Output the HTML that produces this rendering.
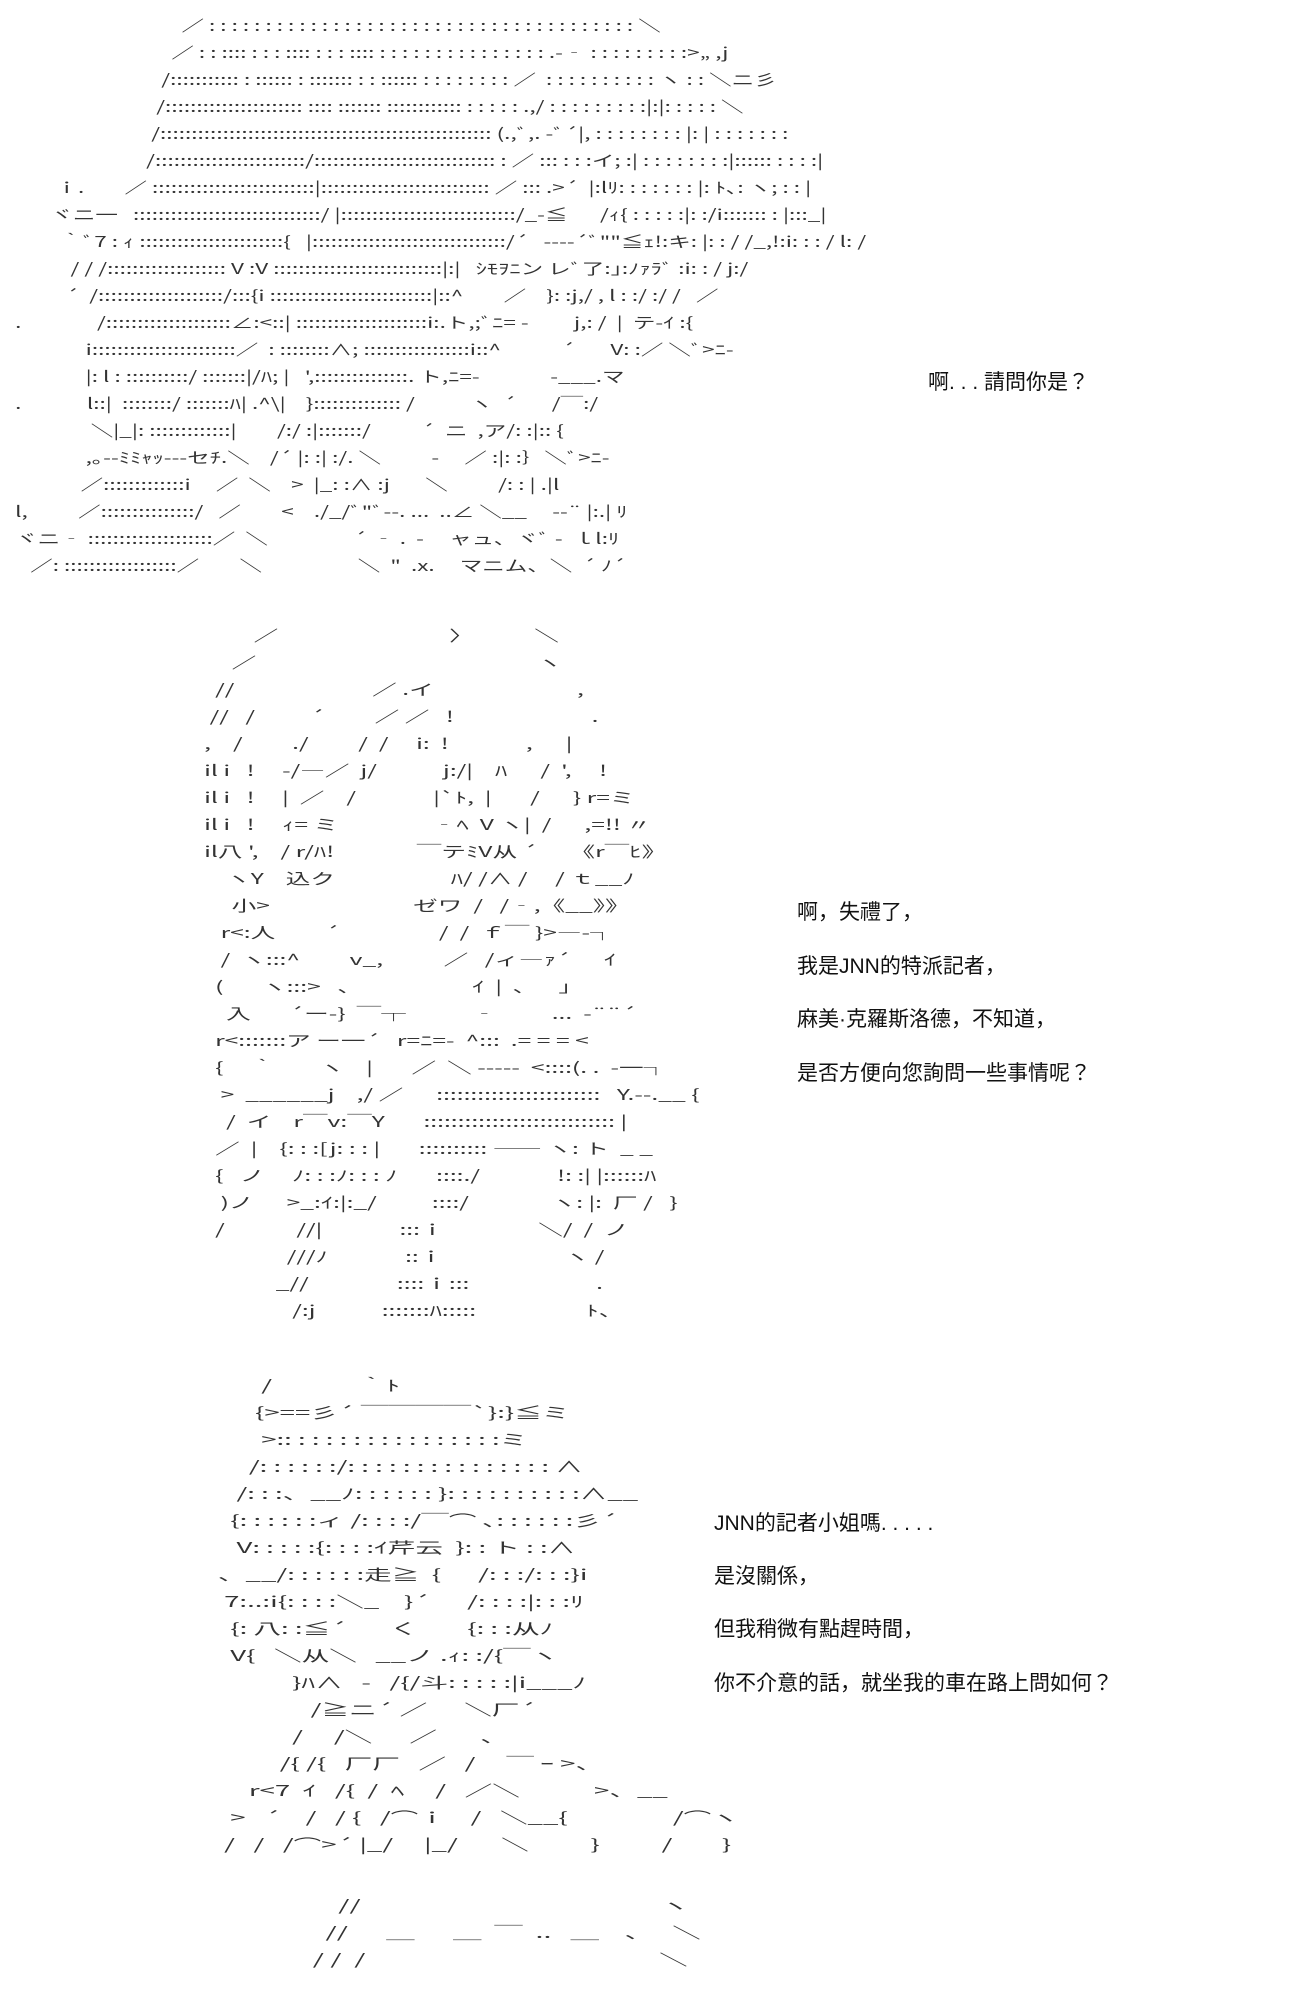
<!DOCTYPE html>
<html><head><meta charset="utf-8"><style>
html,body{margin:0;padding:0;background:#fff;}
body{width:1300px;height:2000px;position:relative;overflow:hidden;font-family:"Liberation Sans","Noto Sans CJK JP",sans-serif;color:#222;}
pre{position:absolute;margin:0;font-family:"Noto Sans CJK JP","Liberation Sans",sans-serif;font-size:15px;line-height:27px;color:#333;white-space:pre;transform-origin:0 0;}
.t{position:absolute;font-size:21px;color:#111;white-space:nowrap;}
</style></head><body>
<pre style="left:0;top:12px;transform:scaleX(1.5)">                                    ／ : : : : : : : : : : : : : : : : : : : : : : : : : : : : : : : : : : : : : : ＼
                                  ／ : : :::: : : : :::: : : : :::: : : : : : : : : : : : : : : : .-‐ : : : : : : : : :>„ ,j
                                /::::::::::: : :::::: : ::::::: : : :::::: : : : : : : : : ／  : : : : : : : : : : ヽ : : ＼ニ彡
                               /:::::::::::::::::::::: :::: ::::::: :::::::::::: : : : : : .,/ : : : : : : : : :|:|: : : : : ＼
                              /::::::::::::::::::::::::::::::::::::::::::::::::::::: (.,ﾞ,. -ﾞ´|, : : : : : : : : |: | : : : : : : :
                             /::::::::::::::::::::::::/::::::::::::::::::::::::::::: : ／ ::: : : :イ; :| : : : : : : : :|:::::: : : : :|
           ｉ.        ／ ::::::::::::::::::::::::::|::::::::::::::::::::::::::: ／ ::: .>´  |:lﾘ: : : : : : : |: ﾄ､: ヽ; : : |
          ヾニ一   ::::::::::::::::::::::::::::::/ |::::::::::::::::::::::::::::/_-≦　  /ｨ{ : : : : :|: :/i::::::: : |:::_|
            ｀ﾞ7 : ｨ :::::::::::::::::::::::{   |:::::::::::::::::::::::::::::::/´   ----´ﾞ""≦ｪ!:キ: |: : / /_,!:i: : : / l: /
              / / /::::::::::::::::::: V :V :::::::::::::::::::::::::::|:|   ｼﾓｦﾆン レﾞ了:｣:ﾉｧﾗﾞ :i: : / j:/
             ´  /::::::::::::::::::::/:::{i ::::::::::::::::::::::::::|::^        ／    }: :j,/ , l : :/ :/ /   ／
   .               /::::::::::::::::::::∠:<::| :::::::::::::::::::::i:.ト,;ﾞﾆ= -         j,: /  |  テ-ｲ :{
                 i:::::::::::::::::::::::／  : ::::::::∧; :::::::::::::::::i::^            ´       V: :／ ＼ﾞ>ﾆ-
                 |: l : ::::::::::/ :::::::|/ﾊ; |   ',:::::::::::::::. ト,ﾆ=-              -___.マ
   .             l::|  ::::::::/ :::::::ﾊ| .^\|    }:::::::::::::: /           ヽ  ´       /￣:/
                  ＼|_|: :::::::::::::|        /:/ :|:::::::/          ´  ニ  ,ア/: :|:: {
                 ,｡--ﾐﾐｬｯ---セﾁ.＼    /´ |: :| :/. ＼          -     ／ :|: :｝＼ﾞ>ﾆ-
                ／:::::::::::::i     ／  ＼    >  |_: :∧ :j       ＼          /: : | .|l
   l,          ／:::::::::::::::/   ／        <    ./_/ﾞ"ﾞ--. ...  ..∠ ＼__     --¨ |:.| ﾘ
   ヾニ‐ ::::::::::::::::::::／  ＼                 ´ ‐ .  -     ャュ、ヾﾞ -  ｌl:ﾘ
      ／: ::::::::::::::::::／        ＼                   ＼  "  .x.     マニム、＼  ´ ﾉ´</pre>
<div class="t" style="left:928px;top:366px">啊. . . 請問你是？</div>

<pre style="left:171px;top:622px;transform:scaleX(1.64)">               ／                               〉           ＼
           ／                                                   ヽ
        //                         ／ .イ                          ,
       //   /          ´         ／ ／   !                         .
      ,    /         ./         /  /     i:  !              ,      |
      il i   !     -/―／  j/            j:/|    ﾊ      /  ',     !
      il i   !     |  ／    /              |`ﾄ,  |       /      } r=ミ
      il i   !     ｨ= ミ                 ‐ﾍ  V ヽ|  /      ,=!! 〃
      il八 ',    / r/ﾊ!               ￣テﾐV从 ´      《r￣ﾋ》
          ヽY    込ク                     ﾊ/ /∧ /     / ｔ__ﾉ
           小>                          ゼワ  /   /‐,《__》》
         r<:人         ´                  /  /  ｆ￣ }>―-┐
         /  ヽ:::^         v_,           ／   /ィ―ｧ´      ｲ
        (       ヽ:::>   、                    ｲ  |  ､      ｣
          入       ´ー-}  ￣┬            ‐          ...  -¨¨´
        r<:::::::ア ー一´   r=ﾆ=-  ^:::  .= = = <
        {     ｀        ヽ    |       ／  ＼ -----  <::::(. .  -一┐
         >  ______j    ,/ ／      ::::::::::::::::::::::::   Y.--.__ {
          /  イ    r￣v:￣Y       :::::::::::::::::::::::::::: |
        ／  |    {: : :[j: : : |       :::::::::: ―― ヽ: ト  _ _
        {   ノ     ﾉ: : :ﾉ: : : ﾉ       ::::./              !: :| |::::::ﾊ
         )ノ      >_:ｲ:|:_/          ::::/               ヽ: |:  厂 /   }
        /             //|              :::ｉ                 ＼/  /  ノ
                     ///ﾉ              ::ｉ                      ヽ /
                   _//                ::::ｉ:::                       .
                      /:j            :::::::ﾊ:::::                    ﾄ、</pre>
<div class="t" style="left:797px;top:896px">啊，失禮了，</div>
<div class="t" style="left:797px;top:950px">我是JNN的特派記者，</div>
<div class="t" style="left:797px;top:1003px">麻美·克羅斯洛德，不知道，</div>
<div class="t" style="left:797px;top:1057px">是否方便向您詢問一些事情呢？</div>

<pre style="left:187px;top:1372px;transform:scaleX(1.84)">            /              ｀ﾄ
           {>==彡´ ￣￣￣￣`}:}≦ミ
            >:: : : : : : : : : : : : : : : :ミ
          /: : : : : :/: : : : : : : : : : : : : : : ∧
        /: : :、__ﾉ: : : : : : }: : : : : : : : : :∧__
       {: : : : : :ィ /: : : :/￣⌒ ､: : : : : :彡´
        V: : : : :{: : : :ｲ芹云  }: : ト : :∧
     、__/: : : : : :走≧  {      /: : :/: : :}i
      7:..:i{: : : :＼_    }´      /: : : :|: : :ﾘ
       {: 八: :≦´       く        {: : :从ﾉ
       V{   ＼从＼   __ノ .ｨ: :/{￣ヽ
                 }ﾊ∧   -   /{/斗: : : : :|i___ﾉ
                    /≧ニ´ ／      ＼厂´
                 /     /＼      ／       、
               /{ /{   厂厂   ／   /     ￣ ｰ >、
          r<7  ｲ   /{  /  ﾍ     /   ／＼            >、__
       >   ´    /   / {   /⌒ｉ    /   ＼__{                 /⌒ヽ
      /   /   /⌒>´ |_/     |_/       ＼          }          /        }</pre>
<div class="t" style="left:714px;top:1507px">JNN的記者小姐嗎. . . . .</div>
<div class="t" style="left:714px;top:1560px">是沒關係，</div>
<div class="t" style="left:714px;top:1613px">但我稍微有點趕時間，</div>
<div class="t" style="left:714px;top:1667px">你不介意的話，就坐我的車在路上問如何？</div>

<pre style="left:300px;top:1892px;transform:scaleX(1.9)">      //                                               ヽ
    //      ＿      ＿  ￣  ..   ＿    、   ＼
  / /  /                                              ＼</pre>
</body></html>
